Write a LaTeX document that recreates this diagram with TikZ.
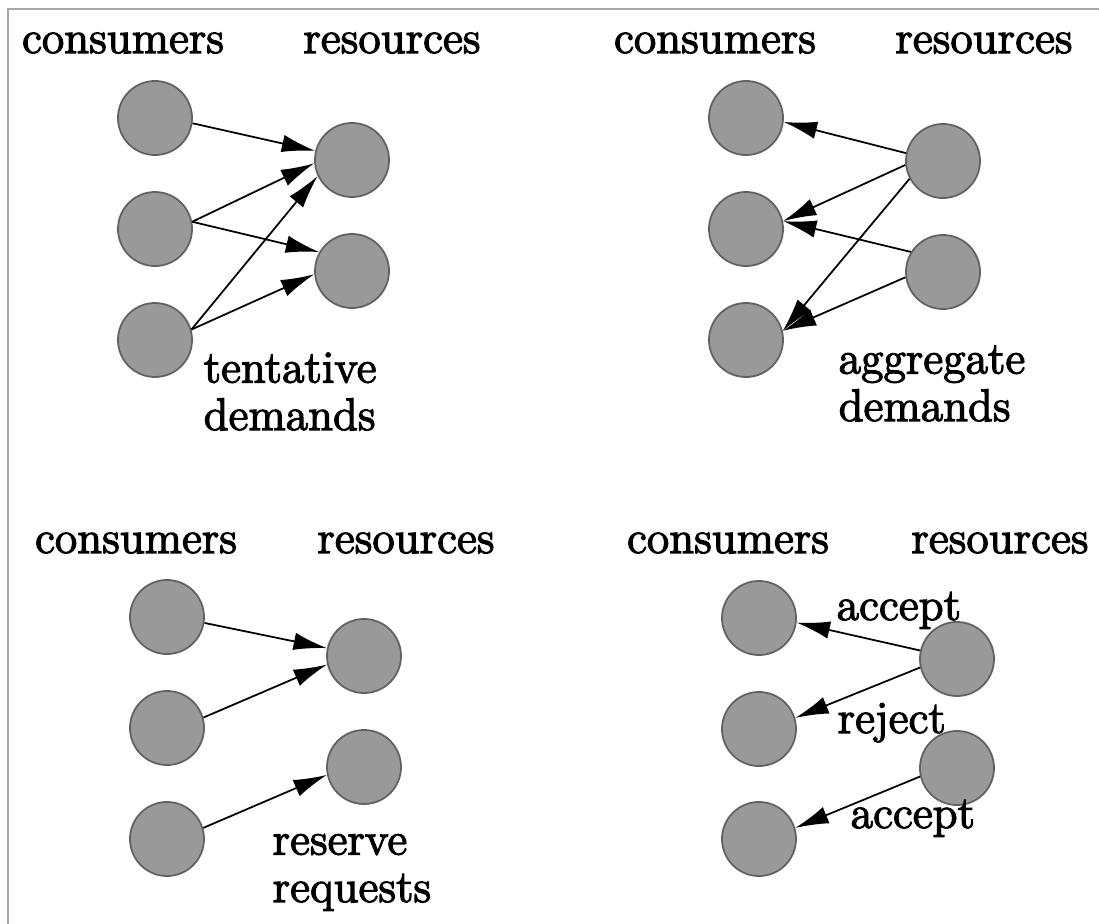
\documentclass[tikz,border=0pt]{standalone}
\usepackage{fontspec}
\newfontfamily\diagfont{Latin Modern Roman}[FakeBold=2.6]
\usetikzlibrary{arrows.meta}

\begin{document}
\begin{tikzpicture}[x=0.01cm, y=-0.01cm,
    disc/.style={circle, draw=black!62, fill=black!40, line width=0.5pt,
        minimum size=0.74cm, inner sep=0pt},
    arr/.style={-{Latex[length=9.5pt, width=5pt]}, line width=0.5pt},
    lbl/.style={font=\diagfont\fontsize{13}{13.5}\selectfont, inner sep=0pt, anchor=base},
    txt/.style={lbl, anchor=base west, align=left}]

    \useasboundingbox (0, 0) rectangle (1099, 924);
    \draw [black!35, line width=0.6pt] (8, 924) -- (8, 9) -- (1099, 9);

    \node [lbl] (thead) at (123, 53) {consumers};
    \node [lbl] (theadr) at (392, 53) {resources};
    \foreach \y [count=\i] in {118, 229, 340}
        { \node [disc] (tc\i) at (155, \y) {}; }
    \foreach \y [count=\i] in {160, 271}
        { \node [disc] (tr\i) at (352, \y) {}; }
    \draw [arr] (tc1.-8) -- (tr1.166);
    \draw [arr] (tc2.11) -- (tr1.185);
    \draw [arr] (tc2.11) -- (tr2.150);
    \draw [arr] (tc3.16) -- (tr1.205);
    \draw [arr] (tc3.16) -- (tr2.185);
    \node [txt] (tlabel) at (203, 430) {tentative\\demands};

    \node [lbl] (ahead) at (715, 53) {consumers};
    \node [lbl] (aheadr) at (984, 53) {resources};
    \foreach \y [count=\i] in {118, 229, 340}
        { \node [disc] (ac\i) at (746, \y) {}; }
    \foreach \y [count=\i] in {161, 272}
        { \node [disc] (ar\i) at (943, \y) {}; }
    \draw [arr] (ar1.168) -- (ac1.-6);
    \draw [arr] (ar1.186) -- (ac2.12);
    \draw [arr] (ar1.208) -- (ac3.14);
    \draw [arr] (ar2.148) -- (ac2.12);
    \draw [arr] (ar2.188) -- (ac3.14);
    \node [txt] (alabel) at (838, 421) {aggregate\\demands};

    \node [lbl] (rhead) at (136, 553) {consumers};
    \node [lbl] (rheadr) at (406, 553) {resources};
    \foreach \y [count=\i] in {617, 728, 839}
        { \node [disc] (rc\i) at (167, \y) {}; }
    \foreach \y [count=\i] in {656, 767}
        { \node [disc] (rr\i) at (364, \y) {}; }
    \draw [arr] (rc1.-9) -- (rr1.168);
    \draw [arr] (rc2.16) -- (rr1.193);
    \draw [arr] (rc3.17) -- (rr2.192);
    \node [txt] (rlabel) at (272, 902) {reserve\\requests};

    \node [lbl] (xhead) at (728, 553) {consumers};
    \node [lbl] (xheadr) at (1000, 553) {resources};
    \foreach \y [count=\i] in {618, 729, 839}
        { \node [disc] (xc\i) at (759, \y) {}; }
    \foreach \y [count=\i] in {659, 768}
        { \node [disc] (xr\i) at (957, \y) {}; }
    \draw [arr] (xr1.167) -- (xc1.-7);
    \draw [arr] (xr1.193) -- (xc2.17);
    \draw [arr] (xr2.193) -- (xc3.17);
    \node [txt] (xaccept) at (836, 620) {accept};
    \node [txt] (xreject) at (837, 733) {reject};
    \node [txt] (xaccept2) at (850, 828) {accept};

\end{tikzpicture}
\end{document}
